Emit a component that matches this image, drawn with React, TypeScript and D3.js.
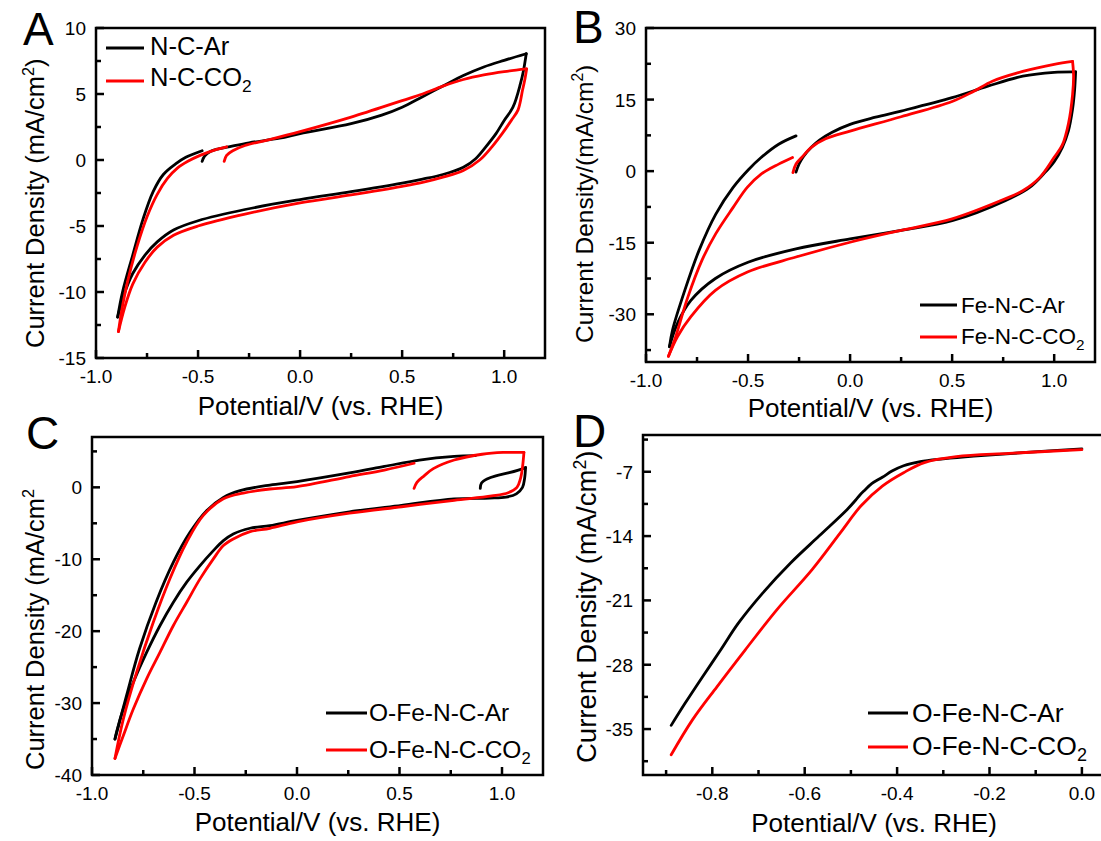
import React from "react";
import * as d3 from "d3";

type Pt = [number, number];

const FONT = "Arial, 'Liberation Sans', Helvetica, sans-serif";
const BLACK = "#000000";
const RED = "#ff0000";

// ---------------- Panel A : N-C ----------------
const aArFwd: Pt[] = [[-0.48,-0.1],[-0.468,0.3],[-0.44,0.65],[-0.4,0.85],[-0.35,1.0],[-0.25,1.3],[-0.1,1.65],[0,2.0],[0.25,2.75],[0.4,3.4],[0.5,4.0],[0.6,4.8],[0.7,5.6],[0.8,6.4],[0.9,7.05],[1.0,7.55],[1.108,8.05]];
const aArRev: Pt[] = [[1.108,8.05],[1.095,6.8],[1.08,5.8],[1.043,4.0],[1.0,3.0],[0.96,2.0],[0.91,1.0],[0.86,0.1],[0.8,-0.55],[0.7,-1.1],[0.6,-1.45],[0.5,-1.75],[0.25,-2.4],[0,-3.0],[-0.27,-3.75],[-0.5,-4.6],[-0.62,-5.3],[-0.7,-6.2],[-0.76,-7.2],[-0.82,-8.6],[-0.865,-10.3],[-0.894,-11.9]];
const aArRet: Pt[] = [[-0.894,-11.9],[-0.87,-10],[-0.82,-7.2],[-0.77,-4.5],[-0.72,-2.4],[-0.67,-1.1],[-0.61,-0.3],[-0.56,0.2],[-0.48,0.7]];
const aCoFwd: Pt[] = [[-0.372,-0.1],[-0.36,0.35],[-0.33,0.7],[-0.27,1.1],[-0.15,1.55],[0,2.15],[0.25,3.25],[0.5,4.5],[0.6,5.0],[0.7,5.6],[0.8,6.1],[0.9,6.45],[1.0,6.7],[1.11,6.9]];
const aCoRev: Pt[] = [[1.11,6.9],[1.1,6.0],[1.09,5.3],[1.068,3.8],[1.035,3.0],[0.99,2.0],[0.94,1.0],[0.88,0.0],[0.8,-0.8],[0.7,-1.3],[0.6,-1.7],[0.5,-2.0],[0.25,-2.65],[0,-3.25],[-0.27,-4.1],[-0.5,-5.0],[-0.62,-5.7],[-0.7,-6.6],[-0.76,-7.75],[-0.82,-9.4],[-0.86,-11.2],[-0.89,-13]];
const aCoRet: Pt[] = [[-0.89,-13],[-0.875,-11.5],[-0.845,-9.2],[-0.8,-6.6],[-0.75,-4.3],[-0.7,-2.6],[-0.65,-1.4],[-0.6,-0.6],[-0.55,-0.1],[-0.49,0.35],[-0.42,0.75],[-0.36,1.0]];

// ---------------- Panel B : Fe-N-C ----------------
const bArFwd: Pt[] = [[-0.265,-0.2],[-0.25,1.5],[-0.23,3.0],[-0.19,5.0],[-0.15,6.5],[-0.09,8.1],[0,9.8],[0.125,11.3],[0.25,12.6],[0.5,15.4],[0.675,17.8],[0.846,19.9],[1.0,20.7],[1.105,20.8]];
const bArRev: Pt[] = [[1.105,20.8],[1.1,17],[1.09,13],[1.07,8.5],[1.04,5],[1.0,2.0],[0.95,-0.5],[0.88,-3.4],[0.76,-6.2],[0.5,-10.4],[0.25,-12.4],[0,-14.2],[-0.265,-16.3],[-0.5,-19.1],[-0.66,-22.5],[-0.78,-27.1],[-0.846,-31.9],[-0.885,-36.8]];
const bArRet: Pt[] = [[-0.885,-36.8],[-0.87,-33.3],[-0.81,-25],[-0.74,-16.6],[-0.658,-9.0],[-0.573,-3.4],[-0.496,0.4],[-0.436,2.86],[-0.35,5.65],[-0.265,7.4]];
const bCoFwd: Pt[] = [[-0.28,-0.3],[-0.265,1.5],[-0.23,3.2],[-0.19,5.0],[-0.12,6.8],[0,8.4],[0.25,11.4],[0.5,14.6],[0.6,16.6],[0.7,18.9],[0.846,20.9],[1.0,22.4],[1.09,23.0]];
const bCoRev: Pt[] = [[1.09,23.0],[1.095,20],[1.09,16],[1.07,10],[1.04,5.5],[1.0,2.9],[0.93,-1.3],[0.846,-4.1],[0.76,-5.8],[0.5,-10],[0.25,-12.4],[0,-14.9],[-0.265,-18],[-0.5,-21.1],[-0.66,-25],[-0.78,-30.5],[-0.846,-34.7],[-0.89,-38.8]];
const bCoRet: Pt[] = [[-0.89,-38.8],[-0.86,-35.4],[-0.795,-26.4],[-0.726,-18.7],[-0.658,-13.1],[-0.573,-7.6],[-0.504,-3.4],[-0.436,-0.62],[-0.35,1.47],[-0.282,2.86]];

// ---------------- Panel C : O-Fe-N-C (CV) ----------------
const cArFwd: Pt[] = [[0.894,-0.15],[0.9,0.6],[0.93,1.2],[0.97,1.6],[1.03,2.0],[1.08,2.4],[1.115,2.75]];
const cArRev: Pt[] = [[1.115,2.75],[1.11,1.2],[1.1,0.0],[1.07,-0.9],[1.02,-1.35],[0.94,-1.5],[0.767,-1.6],[0.51,-2.5],[0.256,-3.4],[0,-4.6],[-0.132,-5.32],[-0.229,-5.69],[-0.311,-6.48],[-0.359,-7.41],[-0.408,-8.8],[-0.473,-10.88],[-0.538,-13.19],[-0.603,-15.97],[-0.668,-19.21],[-0.733,-22.92],[-0.798,-27.08],[-0.847,-30.79],[-0.88,-34.0],[-0.888,-35.0]];
const cArRet: Pt[] = [[-0.888,-35.0],[-0.831,-28.9],[-0.768,-22.45],[-0.688,-16.0],[-0.603,-10.4],[-0.522,-6.25],[-0.441,-3.24],[-0.359,-1.39],[-0.278,-0.46],[-0.132,0.32],[0,0.8],[0.256,2.0],[0.426,2.9],[0.597,3.8],[0.767,4.3],[0.87,4.4]];
const cCoFwd: Pt[] = [[0.571,-0.15],[0.585,0.7],[0.62,1.6],[0.665,2.6],[0.767,3.8],[0.903,4.6],[1.005,4.85],[1.107,4.85]];
const cCoRev: Pt[] = [[1.107,4.85],[1.1,2.8],[1.09,1.2],[1.073,0.0],[1.03,-0.75],[0.95,-1.2],[0.767,-1.8],[0.51,-2.7],[0.256,-3.6],[0,-4.8],[-0.132,-5.69],[-0.229,-6.16],[-0.311,-7.18],[-0.359,-8.1],[-0.408,-9.95],[-0.473,-12.73],[-0.538,-15.97],[-0.603,-19.21],[-0.668,-22.92],[-0.733,-26.6],[-0.798,-30.8],[-0.847,-34.5],[-0.888,-37.7]];
const cCoRet: Pt[] = [[-0.888,-37.7],[-0.847,-32.2],[-0.782,-25.7],[-0.701,-18.75],[-0.62,-12.7],[-0.538,-7.6],[-0.457,-3.9],[-0.359,-1.6],[-0.262,-0.8],[-0.132,-0.23],[0,0.1],[0.256,1.5],[0.426,2.4],[0.571,3.35]];

// ---------------- Panel D : O-Fe-N-C (LSV) ----------------
const dAr: Pt[] = [[-0.889,-34.6],[-0.859,-32.2],[-0.821,-29.3],[-0.782,-26.4],[-0.744,-23.5],[-0.691,-20.2],[-0.63,-16.9],[-0.569,-14.0],[-0.508,-11.1],[-0.49,-10.1],[-0.48,-9.5],[-0.47,-9.0],[-0.455,-8.3],[-0.432,-7.6],[-0.41,-6.9],[-0.386,-6.35],[-0.35,-5.9],[-0.3,-5.6],[-0.234,-5.3],[-0.12,-4.9],[0,-4.5]];
const dCo: Pt[] = [[-0.889,-37.8],[-0.843,-34.0],[-0.79,-30.4],[-0.729,-26.4],[-0.66,-22.0],[-0.584,-17.65],[-0.523,-13.65],[-0.478,-10.7],[-0.432,-8.56],[-0.386,-7.1],[-0.341,-6.0],[-0.272,-5.36],[-0.158,-5.0],[0,-4.6]];

// ---------------- Ticks ----------------
const cvXTicks = [-1.0, -0.5, 0.0, 0.5, 1.0];
const cvXLabels = ["-1.0", "-0.5", "0.0", "0.5", "1.0"];
const cvXMinor = [-0.75, -0.25, 0.25, 0.75];
const aYTicks = [10, 5, 0, -5, -10, -15];
const aYLabels = ["10", "5", "0", "-5", "-10", "-15"];
const aYMinor = [7.5, 2.5, -2.5, -7.5, -12.5];
const bYTicks = [30, 15, 0, -15, -30];
const bYLabels = ["30", "15", "0", "-15", "-30"];
const bYMinor = [22.5, 7.5, -7.5, -22.5, -37.5];
const cYTicks = [0, -10, -20, -30, -40];
const cYLabels = ["0", "-10", "-20", "-30", "-40"];
const cYMinor = [5, -5, -15, -25, -35];
const dXTicks = [-0.8, -0.6, -0.4, -0.2, 0.0];
const dXLabels = ["-0.8", "-0.6", "-0.4", "-0.2", "0.0"];
const dXMinor = [-0.9, -0.7, -0.5, -0.3, -0.1];
const dYTicks = [-7, -14, -21, -28, -35];
const dYLabels = ["-7", "-14", "-21", "-28", "-35"];
const dYMinor = [-3.5, -10.5, -17.5, -24.5, -31.5, -38.5];

type Series = { segs: Pt[][]; color: string };
type Legend = { main: string; sub?: string; color: string };
type Cfg = {
  letter: string; lx: number; ly: number;
  left: number; right: number; top: number; bottom: number;
  xDomain: [number, number]; yDomain: [number, number];
  xTicks: number[]; xLabels: string[]; xMinor: number[];
  yTicks: number[]; yLabels: string[]; yMinor: number[];
  series: Series[];
  legend: Legend[]; legX1: number; legX2: number; legTextX: number; legLineY: number[]; legTextY: number[]; legSize: number;
  yTitle: string; yTitleEnd: string; yTitleX: number; yTitleStart: number; yTitleSize: number;
  xTitleY: number;
};

const panels: Cfg[] = [
  {
    letter: "A", lx: 23, ly: 45,
    left: 96, right: 545, top: 28, bottom: 358,
    xDomain: [-1, 1.2], yDomain: [-15, 10],
    xTicks: cvXTicks, xLabels: cvXLabels, xMinor: cvXMinor,
    yTicks: aYTicks, yLabels: aYLabels, yMinor: aYMinor,
    series: [
      { segs: [aArFwd, aArRev, aArRet], color: BLACK },
      { segs: [aCoFwd, aCoRev, aCoRet], color: RED },
    ],
    legend: [{ main: "N-C-Ar", color: BLACK }, { main: "N-C-CO", sub: "2", color: RED }],
    legX1: 106, legX2: 144, legTextX: 150, legLineY: [48, 81], legTextY: [55, 86], legSize: 25.5,
    yTitle: "Current Density (mA/cm", yTitleEnd: ")", yTitleX: 44, yTitleStart: 348, yTitleSize: 25.5,
    xTitleY: 415,
  },
  {
    letter: "B", lx: 573, ly: 43,
    left: 646, right: 1095, top: 28, bottom: 362,
    xDomain: [-1, 1.2], yDomain: [-40, 30],
    xTicks: cvXTicks, xLabels: cvXLabels, xMinor: cvXMinor,
    yTicks: bYTicks, yLabels: bYLabels, yMinor: bYMinor,
    series: [
      { segs: [bArFwd, bArRev, bArRet], color: BLACK },
      { segs: [bCoFwd, bCoRev, bCoRet], color: RED },
    ],
    legend: [{ main: "Fe-N-C-Ar", color: BLACK }, { main: "Fe-N-C-CO", sub: "2", color: RED }],
    legX1: 920, legX2: 957, legTextX: 961, legLineY: [305, 337], legTextY: [313, 344], legSize: 22.5,
    yTitle: "Current Density/(mA/cm", yTitleEnd: ")", yTitleX: 593, yTitleStart: 343, yTitleSize: 24.5,
    xTitleY: 417,
  },
  {
    letter: "C", lx: 26, ly: 449,
    left: 92, right: 543, top: 437, bottom: 775,
    xDomain: [-1, 1.2], yDomain: [-40, 7],
    xTicks: cvXTicks, xLabels: cvXLabels, xMinor: cvXMinor,
    yTicks: cYTicks, yLabels: cYLabels, yMinor: cYMinor,
    series: [
      { segs: [cArFwd, cArRev, cArRet], color: BLACK },
      { segs: [cCoFwd, cCoRev, cCoRet], color: RED },
    ],
    legend: [{ main: "O-Fe-N-C-Ar", color: BLACK }, { main: "O-Fe-N-C-CO", sub: "2", color: RED }],
    legX1: 326, legX2: 367, legTextX: 369, legLineY: [713, 750], legTextY: [721, 758], legSize: 24.5,
    yTitle: "Current Density (mA/cm", yTitleEnd: "", yTitleX: 44, yTitleStart: 770, yTitleSize: 25.5,
    xTitleY: 831,
  },
  {
    letter: "D", lx: 573, ly: 447,
    left: 643, right: 1105, top: 435, bottom: 775,
    xDomain: [-0.95, 0.05], yDomain: [-40, -3],
    xTicks: dXTicks, xLabels: dXLabels, xMinor: dXMinor,
    yTicks: dYTicks, yLabels: dYLabels, yMinor: dYMinor,
    series: [
      { segs: [dAr], color: BLACK },
      { segs: [dCo], color: RED },
    ],
    legend: [{ main: "O-Fe-N-C-Ar", color: BLACK }, { main: "O-Fe-N-C-CO", sub: "2", color: RED }],
    legX1: 868, legX2: 908, legTextX: 912, legLineY: [713, 747], legTextY: [722, 755], legSize: 26.5,
    yTitle: "Current Density (mA/cm", yTitleEnd: ")", yTitleX: 596, yTitleStart: 763, yTitleSize: 27.5,
    xTitleY: 832,
  },
];

const TICK_SIZE = 19;
const XTITLE_SIZE = 26;

function Panel({ c }: { c: Cfg }) {
  const x = d3.scaleLinear().domain(c.xDomain).range([c.left, c.right]);
  const y = d3.scaleLinear().domain(c.yDomain).range([c.bottom, c.top]);
  const line = d3
    .line<Pt>()
    .x((d) => x(d[0]))
    .y((d) => y(d[1]))
    .curve(d3.curveCatmullRom.alpha(0.5));
  const sw = 2.5;
  const major = 8;
  const minor = 5;
  const cx = (c.left + c.right) / 2;
  const subSize = c.legSize * 0.68;
  return (
    <g>
      {c.series.map((s, i) =>
        s.segs.map((seg, j) => (
          <path
            key={`s${i}-${j}`}
            d={line(seg) || ""}
            fill="none"
            stroke={s.color}
            strokeWidth={2.8}
            strokeLinejoin="round"
            strokeLinecap="round"
          />
        ))
      )}
      <rect
        x={c.left}
        y={c.top}
        width={c.right - c.left}
        height={c.bottom - c.top}
        fill="none"
        stroke={BLACK}
        strokeWidth={sw}
      />
      {c.xTicks.map((t, i) => (
        <g key={`xt${i}`}>
          <line x1={x(t)} x2={x(t)} y1={c.bottom} y2={c.bottom - major} stroke={BLACK} strokeWidth={sw} />
          <text x={x(t)} y={c.bottom + 25} textAnchor="middle" fontSize={TICK_SIZE} fontFamily={FONT}>
            {c.xLabels[i]}
          </text>
        </g>
      ))}
      {c.xMinor.map((t, i) => (
        <line key={`xm${i}`} x1={x(t)} x2={x(t)} y1={c.bottom} y2={c.bottom - minor} stroke={BLACK} strokeWidth={sw} />
      ))}
      {c.yTicks.map((t, i) => (
        <g key={`yt${i}`}>
          <line x1={c.left} x2={c.left + major} y1={y(t)} y2={y(t)} stroke={BLACK} strokeWidth={sw} />
          <text x={c.left - 10} y={y(t) + 7} textAnchor="end" fontSize={TICK_SIZE} fontFamily={FONT}>
            {c.yLabels[i]}
          </text>
        </g>
      ))}
      {c.yMinor.map((t, i) => (
        <line key={`ym${i}`} x1={c.left} x2={c.left + minor} y1={y(t)} y2={y(t)} stroke={BLACK} strokeWidth={sw} />
      ))}
      {c.legend.map((l, i) => (
        <g key={`lg${i}`}>
          <line x1={c.legX1} x2={c.legX2} y1={c.legLineY[i]} y2={c.legLineY[i]} stroke={l.color} strokeWidth={3} />
          <text x={c.legTextX} y={c.legTextY[i]} fontSize={c.legSize} fontFamily={FONT}>
            {l.main}
            {l.sub ? (
              <tspan fontSize={subSize} dy={6}>
                {l.sub}
              </tspan>
            ) : null}
          </text>
        </g>
      ))}
      <text x={cx} y={c.xTitleY} textAnchor="middle" fontSize={XTITLE_SIZE} fontFamily={FONT}>
        Potential/V (vs. RHE)
      </text>
      <text
        transform={`translate(${c.yTitleX},${c.yTitleStart}) rotate(-90)`}
        textAnchor="start"
        fontSize={c.yTitleSize}
        fontFamily={FONT}
      >
        {c.yTitle}
        <tspan fontSize={c.yTitleSize * 0.64} dy={-10}>2</tspan>
        {c.yTitleEnd ? <tspan dy={10}>{c.yTitleEnd}</tspan> : null}
      </text>
      <text x={c.lx} y={c.ly} fontSize={46} fontFamily={FONT}>
        {c.letter}
      </text>
    </g>
  );
}

export default function App() {
  return (
    <svg
      width={1101}
      height={841}
      viewBox="0 0 1101 841"
      style={{ position: "absolute", left: 0, top: 0, background: "#ffffff" }}
    >
      <rect x={0} y={0} width={1101} height={841} fill="#ffffff" />
      {panels.map((p) => (
        <Panel key={p.letter} c={p} />
      ))}
    </svg>
  );
}
